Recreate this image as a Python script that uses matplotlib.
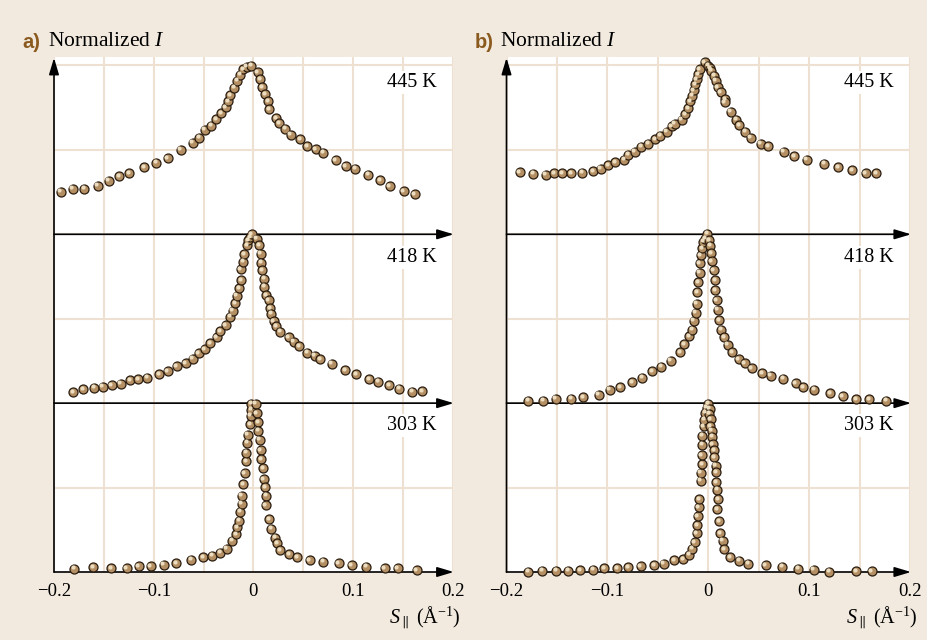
import matplotlib
matplotlib.use("Agg")
import matplotlib.pyplot as plt
import numpy as np
from matplotlib.transforms import offset_copy

# Panel a (x in 1/Å, y normalized, each curve 0..2)
a445_x = [-0.1933, -0.1813, -0.1697, -0.156, -0.1453, -0.1347, -0.1243, -0.1097, -0.0977, -0.086,
          -0.0727, -0.0607, -0.0543, -0.049, -0.0423, -0.037, -0.0323, -0.0277, -0.025, -0.0233,
          -0.0193, -0.0163, -0.0133, -0.0103, -0.0067, -0.0023, 0.0043, 0.0067, 0.0087, 0.0117,
          0.0147, 0.016, 0.0227, 0.026, 0.0317, 0.0373, 0.047, 0.0543, 0.0627, 0.07,
          0.0827, 0.0927, 0.102, 0.115, 0.127, 0.1367, 0.1507, 0.162]
a445_y = [0.506, 0.541, 0.541, 0.577, 0.636, 0.688, 0.727, 0.794, 0.850, 0.905,
          1.0, 1.087, 1.142, 1.237, 1.285, 1.360, 1.435, 1.502, 1.577, 1.644,
          1.735, 1.818, 1.889, 1.953, 1.984, 1.996, 1.917, 1.838, 1.739, 1.656,
          1.573, 1.482, 1.375, 1.316, 1.249, 1.178, 1.130, 1.047, 1.008, 0.968,
          0.881, 0.810, 0.775, 0.704, 0.644, 0.573, 0.514, 0.478]

a418_x = [-0.181, -0.1707, -0.1597, -0.151, -0.142, -0.133, -0.1237, -0.1157, -0.1063, -0.0943,
          -0.086, -0.077, -0.0677, -0.061, -0.055, -0.049, -0.043, -0.0367, -0.033, -0.0277,
          -0.0233, -0.0207, -0.0183, -0.0167, -0.014, -0.0123, -0.0127, -0.01, -0.009, -0.006,
          -0.0053, -0.0033, -0.0017, 0.0033, 0.0057, 0.0073, 0.008, 0.009, 0.0107, 0.0107,
          0.0127, 0.0153, 0.0167, 0.018, 0.0203, 0.023, 0.027, 0.0353, 0.0403, 0.046,
          0.054, 0.0617, 0.0673, 0.0787, 0.0923, 0.1033, 0.116, 0.1253, 0.136, 0.1463,
          0.1593, 0.1697]
a418_y = [0.127, 0.162, 0.182, 0.194, 0.214, 0.230, 0.269, 0.285, 0.301, 0.341,
          0.376, 0.436, 0.471, 0.527, 0.590, 0.642, 0.709, 0.780, 0.855, 0.923,
          1.026, 1.093, 1.184, 1.275, 1.362, 1.457, 1.584, 1.675, 1.766, 1.869,
          1.933, 1.968, 2.0, 1.949, 1.869, 1.770, 1.663, 1.572, 1.473, 1.378,
          1.279, 1.216, 1.125, 1.061, 0.974, 0.915, 0.848, 0.780, 0.729, 0.673,
          0.598, 0.562, 0.519, 0.467, 0.392, 0.341, 0.285, 0.253, 0.210, 0.170,
          0.135, 0.143]

a303_x = [-0.18, -0.1607, -0.1427, -0.127, -0.115, -0.103, -0.09, -0.0777, -0.0623, -0.0503,
          -0.041, -0.0333, -0.0267, -0.021, -0.0173, -0.016, -0.0143, -0.013, -0.0117, -0.0117,
          -0.0103, -0.0087, -0.0073, -0.007, -0.006, -0.0057, -0.0033, -0.0027, -0.002, -0.002,
          0.0023, 0.0033, 0.0047, 0.005, 0.0063, 0.0073, 0.008, 0.01, 0.0103, 0.012,
          0.013, 0.0123, 0.016, 0.0177, 0.0217, 0.0237, 0.0267, 0.036, 0.0437, 0.0567,
          0.07, 0.0857, 0.0987, 0.113, 0.1317, 0.145, 0.1637]
a303_y = [0.039, 0.055, 0.047, 0.047, 0.071, 0.071, 0.086, 0.106, 0.145, 0.176,
          0.192, 0.227, 0.278, 0.373, 0.447, 0.533, 0.608, 0.714, 0.808, 0.902,
          1.043, 1.169, 1.314, 1.412, 1.533, 1.627, 1.749, 1.851, 1.922, 1.992,
          1.992, 1.878, 1.776, 1.675, 1.569, 1.443, 1.333, 1.227, 1.098, 1.004,
          0.902, 0.792, 0.624, 0.514, 0.408, 0.341, 0.259, 0.212, 0.173, 0.141,
          0.122, 0.106, 0.082, 0.063, 0.047, 0.043, 0.024]

# Panel b
b445_x = [-0.1868, -0.1733, -0.161, -0.1525, -0.1449, -0.1356, -0.1251, -0.1139, -0.1066, -0.099,
          -0.0924, -0.0835, -0.0792, -0.0729, -0.0667, -0.0594, -0.0528, -0.0479, -0.0413, -0.0363,
          -0.0333, -0.0264, -0.0231, -0.0201, -0.0178, -0.0158, -0.0145, -0.0132, -0.0116, -0.0099,
          -0.0083, -0.0036, 0.0, 0.0017, 0.003, 0.0059, 0.0073, 0.0092, 0.0122, 0.0165,
          0.0162, 0.0221, 0.0274, 0.0307, 0.0366, 0.0422, 0.0518, 0.0594, 0.0746, 0.0855,
          0.0977, 0.1149, 0.1287, 0.1426, 0.1561, 0.1667]
b445_y = [0.739, 0.719, 0.704, 0.727, 0.727, 0.727, 0.731, 0.751, 0.775, 0.818,
          0.854, 0.885, 0.941, 0.980, 1.036, 1.075, 1.126, 1.166, 1.217, 1.277,
          1.312, 1.356, 1.419, 1.494, 1.573, 1.640, 1.704, 1.775, 1.838, 1.897,
          1.957, 2.036, 1.996, 1.968, 1.937, 1.877, 1.818, 1.739, 1.680, 1.601,
          1.565, 1.451, 1.356, 1.292, 1.217, 1.146, 1.071, 1.040, 0.980, 0.925,
          0.885, 0.834, 0.794, 0.759, 0.727, 0.727]

b418_x = [-0.1782, -0.1634, -0.1512, -0.136, -0.1241, -0.1086, -0.0977, -0.0875, -0.0756, -0.0657,
          -0.0558, -0.0465, -0.0373, -0.0277, -0.0238, -0.0188, -0.0158, -0.0145, -0.0125, -0.0116,
          -0.0112, -0.0102, -0.0086, -0.0086, -0.0073, -0.0063, -0.0053, -0.003, -0.001, 0.0007,
          0.0017, 0.003, 0.0036, 0.0053, 0.0066, 0.0069, 0.0083, 0.0092, 0.0109, 0.0129,
          0.0158, 0.0191, 0.0238, 0.03, 0.0363, 0.0429, 0.0535, 0.062, 0.0743, 0.0868,
          0.0941, 0.1053, 0.1208, 0.1333, 0.1469, 0.1594, 0.1766]
b418_y = [0.028, 0.028, 0.051, 0.051, 0.067, 0.099, 0.158, 0.190, 0.250, 0.301,
          0.380, 0.432, 0.503, 0.602, 0.697, 0.796, 0.871, 0.978, 1.073, 1.180,
          1.315, 1.434, 1.545, 1.655, 1.754, 1.838, 1.913, 1.949, 2.008, 1.933,
          1.865, 1.774, 1.679, 1.572, 1.453, 1.339, 1.220, 1.109, 0.986, 0.871,
          0.784, 0.693, 0.602, 0.523, 0.471, 0.412, 0.356, 0.325, 0.289, 0.238,
          0.190, 0.158, 0.115, 0.079, 0.044, 0.044, 0.028]

b303_x = [-0.1782, -0.1644, -0.1508, -0.1386, -0.1267, -0.1142, -0.1033, -0.0901, -0.0792, -0.067,
          -0.0535, -0.0442, -0.0337, -0.0248, -0.0191, -0.0158, -0.0135, -0.0116, -0.0109, -0.0106,
          -0.0096, -0.0089, -0.0076, -0.0073, -0.0063, -0.0066, -0.0059, -0.0059, -0.0046, -0.0043,
          -0.003, -0.0017, -0.0003, 0.0013, 0.001, 0.0023, 0.002, 0.0036, 0.004, 0.0043,
          0.0059, 0.0059, 0.0073, 0.0076, 0.0079, 0.0086, 0.0099, 0.0086, 0.0109, 0.0119,
          0.0142, 0.0158, 0.0215, 0.0304, 0.0393, 0.0571, 0.0736, 0.0894, 0.1046, 0.1198,
          0.1465, 0.162]
b303_y = [0.004, 0.016, 0.016, 0.016, 0.020, 0.027, 0.043, 0.043, 0.059, 0.067,
          0.078, 0.098, 0.137, 0.153, 0.204, 0.275, 0.353, 0.459, 0.553, 0.659,
          0.765, 0.863, 1.082, 1.176, 1.275, 1.380, 1.510, 1.616, 1.729, 1.804,
          1.886, 1.945, 1.992, 1.933, 1.875, 1.808, 1.729, 1.675, 1.604, 1.514,
          1.443, 1.357, 1.259, 1.180, 1.067, 0.976, 0.863, 0.745, 0.604, 0.463,
          0.373, 0.267, 0.173, 0.133, 0.098, 0.082, 0.063, 0.039, 0.027, 0.004,
          0.008, 0.008]

temps = ["445 K", "418 K", "303 K"]
temp_y = [5.80, 3.72, 1.73]
offsets = [4, 2, 0]
tick_vals = [-0.2, -0.1, 0, 0.1, 0.2]
tick_labels = ["\u22120.2", "\u22120.1", "0", "0.1", "0.2"]

BG = "#f2eadf"
GRID = "#efe1d1"

plt.rcParams["font.family"] = ["Liberation Serif", "DejaVu Serif"]
plt.rcParams["mathtext.fontset"] = "custom"
plt.rcParams["mathtext.rm"] = "Liberation Serif"
plt.rcParams["mathtext.it"] = "Liberation Serif:italic"

fig = plt.figure(figsize=(9.27, 6.4), dpi=100, facecolor=BG)
W, H = 927, 640

panels = [
    ("a)", 54, 398.7, [(a445_x, a445_y), (a418_x, a418_y), (a303_x, a303_y)]),
    ("b)", 506.5, 403.5, [(b445_x, b445_y), (b418_x, b418_y), (b303_x, b303_y)]),
]

for letter, left_px, width_px, curves in panels:
    ax = fig.add_axes([left_px / W, (H - 572) / H, width_px / W, 515 / H])
    ax.set_facecolor("white")
    ax.set_xlim(-0.2, 0.2)
    ax.set_ylim(0, 6.1)
    for s in ax.spines.values():
        s.set_visible(False)

    ax.set_xticks(tick_vals, tick_labels)
    ax.set_xticks(np.arange(-0.15, 0.2, 0.1), minor=True)
    ax.set_yticks([1, 2, 3, 4, 5, 6], [])
    ax.tick_params(which="both", length=0)
    ax.tick_params(axis="x", pad=8, labelsize=13.5)
    ax.grid(True, which="both", color=GRID, lw=1.5, zorder=0)
    ax.set_axisbelow(True)

    # axis arrows
    for y0 in offsets:
        ax.annotate("", xy=(0.201, y0), xytext=(-0.2, y0),
                    arrowprops=dict(arrowstyle="-|>,head_length=1.0,head_width=0.3",
                                    color="black", lw=1.2, shrinkA=0, shrinkB=0),
                    annotation_clip=False, zorder=3)
    ax.annotate("", xy=(-0.2, 6.09), xytext=(-0.2, 0),
                arrowprops=dict(arrowstyle="-|>,head_length=1.0,head_width=0.3",
                                color="black", lw=1.2, shrinkA=0, shrinkB=0),
                annotation_clip=False, zorder=3)

    hl = offset_copy(ax.transData, fig=fig, x=-1.0, y=1.0, units="points")
    for (xs, ys), off in zip(curves, offsets):
        yy = np.array(ys) + off
        ax.scatter(xs, yy, s=42, c="#b38f63", edgecolors="#2a1d10", linewidths=0.9,
                   zorder=4, clip_on=False)
        ax.scatter(xs, yy, s=9, c="#ecdcc0", linewidths=0, transform=hl,
                   zorder=5, clip_on=False)

    for t, ty in zip(temps, temp_y):
        ax.text(0.184, ty, t, ha="right", va="center", fontsize=14.5, zorder=6,
                bbox=dict(facecolor="white", edgecolor="none", pad=1.5))

    fig.text((left_px - 32) / W, 1 - 42 / H, letter, ha="left", va="center",
             fontsize=14.5, fontweight="bold", color="#8b5a1e", family="Liberation Sans")
    fig.text((left_px - 6) / W, 1 - 42 / H, "Normalized $I$", ha="left", va="center",
             fontsize=15.5)
    fig.text((left_px + width_px + 8) / W, 1 - 617 / H,
             "$S_{\\parallel}$ (\u00c5$^{\\mathrm{\u22121}}$)",
             ha="right", va="center", fontsize=14.5)

fig.savefig("out.png", dpi=100, facecolor=BG)
